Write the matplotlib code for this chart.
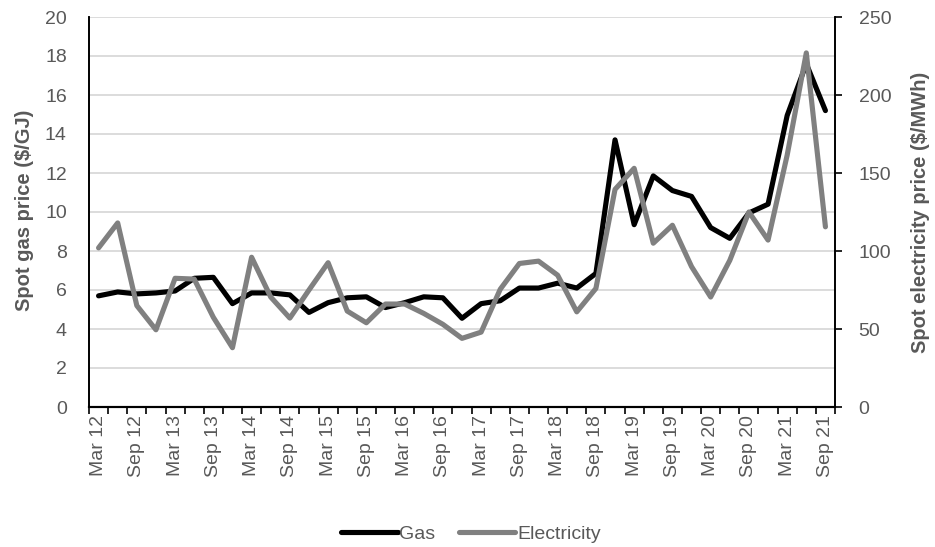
import matplotlib
matplotlib.use("Agg")
import matplotlib.pyplot as plt
import numpy as np

quarters = ["Mar 12", "Jun 12", "Sep 12", "Dec 12",
            "Mar 13", "Jun 13", "Sep 13", "Dec 13",
            "Mar 14", "Jun 14", "Sep 14", "Dec 14",
            "Mar 15", "Jun 15", "Sep 15", "Dec 15",
            "Mar 16", "Jun 16", "Sep 16", "Dec 16",
            "Mar 17", "Jun 17", "Sep 17", "Dec 17",
            "Mar 18", "Jun 18", "Sep 18", "Dec 18",
            "Mar 19", "Jun 19", "Sep 19", "Dec 19",
            "Mar 20", "Jun 20", "Sep 20", "Dec 20",
            "Mar 21", "Jun 21", "Sep 21"]

gas = [5.7, 5.9, 5.8, 5.85, 5.95, 6.6, 6.65, 5.3, 5.85, 5.85,
       5.75, 4.85, 5.35, 5.6, 5.65, 5.1, 5.35, 5.65, 5.6, 4.55,
       5.3, 5.45, 6.1, 6.1, 6.35, 6.1, 6.85, 13.7, 9.35, 11.85,
       11.1, 10.8, 9.2, 8.65, 9.95, 10.4, 14.95, 17.6, 15.2]

electricity = [102, 118, 65, 49.5, 82.5, 82, 57.5, 38, 96, 70.5,
               57, 75, 92.5, 61.5, 54, 66, 66, 60, 53, 44,
               48, 75.5, 92, 93.5, 84.5, 61, 76, 139.5, 153, 105,
               116.5, 90, 70.5, 94, 125, 107, 161.5, 227, 115.5]

tick_labels = ["Mar 12", "Sep 12", "Mar 13", "Sep 13", "Mar 14", "Sep 14",
               "Mar 15", "Sep 15", "Mar 16", "Sep 16", "Mar 17", "Sep 17",
               "Mar 18", "Sep 18", "Mar 19", "Sep 19", "Mar 20", "Sep 20",
               "Mar 21", "Sep 21"]

left_ticks = [0, 2, 4, 6, 8, 10, 12, 14, 16, 18, 20]
right_ticks = [0, 50, 100, 150, 200, 250]

plt.rcParams['font.family'] = ['Liberation Sans', 'DejaVu Sans']
TXT = '#595959'
FS = 14

fig = plt.figure(figsize=(9.35, 5.47), dpi=100)
W, H = 935, 547
L, R, T, B = 89, 835, 17, 407
ax = fig.add_axes([L / W, 1 - B / H, (R - L) / W, (B - T) / H])
ax2 = ax.twinx()

x = np.arange(len(quarters))
l1, = ax.plot(x, gas, color='black', lw=3.7, solid_joinstyle='round',
              solid_capstyle='round', label='Gas', zorder=3)
l2, = ax2.plot(x, electricity, color='#808080', lw=3.7, solid_joinstyle='round',
               solid_capstyle='round', label='Electricity', zorder=3)

ax.set_xlim(-0.5, len(quarters) - 0.5)
ax.set_ylim(0, 20)
ax2.set_ylim(0, 250)

ax.set_yticks(left_ticks)
ax.set_yticklabels([str(v) for v in left_ticks])
ax2.set_yticks(right_ticks)
ax2.set_yticklabels([str(v) for v in right_ticks])

ax.yaxis.grid(True, color='#d9d9d9', lw=1.3)
ax.set_axisbelow(True)

# x ticks: marks at category boundaries, labels at every second category
ax.set_xticks(np.arange(-0.5, len(quarters), 1.0))
ax.set_xticklabels([])
label_pos = [quarters.index(t) for t in tick_labels]
ax.set_xticks(label_pos, minor=True)
ax.set_xticklabels(tick_labels, minor=True, rotation=90)
ax.tick_params(axis='x', which='major', length=5, width=1.2, color='black', direction='out')
ax.tick_params(axis='x', which='minor', length=0, pad=6, labelsize=FS, labelcolor=TXT)

ax.tick_params(axis='y', length=0, pad=16, labelsize=FS, labelcolor=TXT)
ax2.tick_params(axis='y', length=5, width=1.2, color='black', pad=12,
                labelsize=FS, labelcolor=TXT)

for a in (ax, ax2):
    a.spines['top'].set_visible(False)
    a.spines['left'].set_color('black')
    a.spines['right'].set_color('black')
    a.spines['bottom'].set_color('black')
    a.spines['left'].set_linewidth(1.2)
    a.spines['right'].set_linewidth(1.2)
    a.spines['bottom'].set_linewidth(1.5)

fig.text(25 / W, 1 - 210 / H, 'Spot gas price ($/GJ)', rotation=90,
         ha='center', va='center', fontsize=14.5, fontweight='bold', color=TXT)
fig.text(921 / W, 1 - 212 / H, 'Spot electricity price ($/MWh)', rotation=90,
         ha='center', va='center', fontsize=14.5, fontweight='bold', color=TXT)

leg = fig.legend([l1, l2], ['Gas', 'Electricity'], loc='center',
                 bbox_to_anchor=(471 / W, 1 - 534 / H), ncol=2, frameon=False,
                 fontsize=FS, handlelength=2.9, handletextpad=0.1,
                 columnspacing=1.2, borderpad=0)
for t in leg.get_texts():
    t.set_color(TXT)

fig.savefig('out.png', dpi=100)
